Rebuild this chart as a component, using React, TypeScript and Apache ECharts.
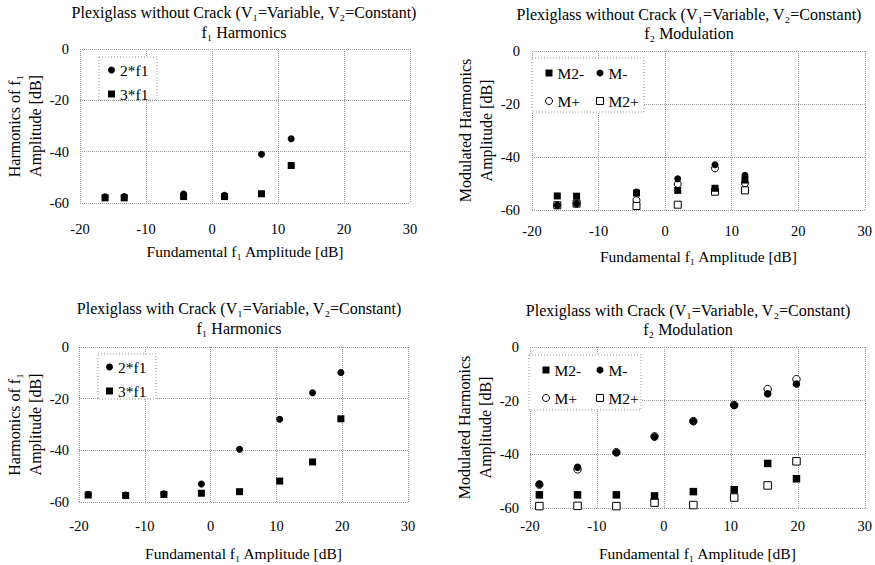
import React, { useEffect, useRef } from "react";
import * as echarts from "echarts";

const FONT = "'Liberation Serif', 'Times New Roman', 'DejaVu Serif', serif";

// Axis ranges / ticks
const X_MIN = -20;
const X_MAX = 30;
const X_STEP = 10;
const Y_MIN = -60;
const Y_MAX = 0;
const Y_STEP = 20;

// Texts
const titles = [
  ["Plexiglass without Crack (V₁=Variable, V₂=Constant)", "f₁ Harmonics"],
  ["Plexiglass without Crack (V₁=Variable, V₂=Constant)", "f₂ Modulation"],
  ["Plexiglass with Crack (V₁=Variable, V₂=Constant)", "f₁ Harmonics"],
  ["Plexiglass with Crack (V₁=Variable, V₂=Constant)", "f₂ Modulation"],
];
const xName = "Fundamental f₁ Amplitude [dB]";
const yNameHarm = "Harmonics of f₁\nAmplitude [dB]";
const yNameMod = "Modulated Harmonics\nAmplitude [dB]";

// Panel 1 & 2: plexiglass without crack (fundamental amplitude, dB)
const fundNoCrack = [-16.2, -13.3, -4.3, 1.9, 7.5, 12.0];
const p1Harm2 = [-57.6, -57.5, -56.5, -57.0, -41.0, -35.0];
const p1Harm3 = [-58.0, -58.0, -57.5, -57.5, -56.4, -45.4];

const p2M2minus = [-54.7, -54.8, -53.6, -52.6, -51.8, -48.7];
const p2Mminus = [-58.2, -57.6, -53.2, -48.2, -42.9, -46.9];
const p2Mplus = [-58.2, -57.6, -56.3, -50.2, -44.3, -49.9];
const p2M2plus = [-58.2, -57.6, -58.5, -58.0, -53.1, -52.6];

// Panel 3 & 4: plexiglass with crack
const fundCrack = [-18.6, -12.9, -7.1, -1.4, 4.4, 10.5, 15.5, 19.8];
const p3Harm2 = [-57.0, -57.3, -56.8, -53.0, -39.6, -28.0, -17.7, -9.9];
const p3Harm3 = [-57.3, -57.5, -57.1, -56.6, -56.0, -51.9, -44.5, -27.8];

const p4M2minus = [-55.1, -55.1, -55.1, -55.5, -53.9, -53.2, -43.4, -49.1];
const p4Mminus = [-51.1, -44.8, -39.4, -33.5, -27.8, -21.8, -17.4, -13.8];
const p4Mplus = [-51.3, -45.6, -39.2, -33.3, -27.6, -21.6, -15.7, -12.0];
const p4M2plus = [-59.3, -59.2, -59.3, -58.0, -58.9, -56.1, -51.6, -42.6];

function pts(xs: number[], ys: number[]) {
  return xs.map((x, i) => [x, ys[i]]);
}

// Layout (pixels)
const grids = [
  { left: 80, top: 49, width: 330, height: 154 },
  { left: 532, top: 51, width: 334, height: 159 },
  { left: 79, top: 347, width: 329, height: 155 },
  { left: 530, top: 347, width: 337, height: 161 },
];
const titlePos = [
  { x: 244, y1: 12, y2: 32 },
  { x: 689, y1: 14, y2: 33 },
  { x: 239, y1: 308, y2: 328 },
  { x: 688, y1: 310, y2: 329 },
];
const xLabelMargin = [18, 13, 16, 10];
const xNameGap = [40, 38, 43, 37];
const yLabelMargin = [11, 12, 10, 11];
const yNameGap = [33, 34, 31, 32];
const legendBoxes = [
  { x: 99, y: 57, w: 58, h: 43 },
  { x: 532, y: 58, w: 112, h: 54 },
  { x: 98, y: 354, w: 58, h: 45 },
  { x: 529, y: 355, w: 112, h: 55 },
];

const FILLED = { color: "#000", opacity: 1 };
const HOLLOW = { color: "#fff", borderColor: "#000", borderWidth: 1, opacity: 1 };

const mk = (name: string, symbol: string, gi: number, data: number[][], hollow: boolean, size = 7) => ({
  name,
  type: "scatter",
  xAxisIndex: gi,
  yAxisIndex: gi,
  symbol,
  symbolSize: size,
  itemStyle: hollow ? HOLLOW : FILLED,
  emphasis: { disabled: true },
  data,
});

const legendItem = (name: string, icon: string, hollow: boolean) => ({
  name,
  icon,
  itemStyle: hollow ? HOLLOW : FILLED,
});

export default function App() {
  const ref = useRef<HTMLDivElement>(null);

  useEffect(() => {
    if (!ref.current) return;
    const chart = echarts.init(ref.current, null, { renderer: "svg" });

    const textBase = { fontFamily: FONT, color: "#000" };

    const xAxis = grids.map((_, i) => ({
      type: "value",
      gridIndex: i,
      min: X_MIN,
      max: X_MAX,
      interval: X_STEP,
      name: xName,
      nameLocation: "middle",
      nameGap: xNameGap[i],
      nameTextStyle: { ...textBase, fontSize: 15.5 },
      axisLine: { show: false, onZero: false },
      axisTick: { show: false },
      axisLabel: { ...textBase, fontSize: 14.5, margin: xLabelMargin[i] },
      splitLine: { show: true, lineStyle: { type: "dotted", color: "#999", width: 1 } },
    }));

    const yAxis = grids.map((_, i) => ({
      type: "value",
      gridIndex: i,
      min: Y_MIN,
      max: Y_MAX,
      interval: Y_STEP,
      name: i % 2 === 0 ? yNameHarm : yNameMod,
      nameLocation: "middle",
      nameRotate: 90,
      nameGap: yNameGap[i],
      nameTextStyle: { ...textBase, fontSize: 16, lineHeight: 21 },
      axisLine: { show: false, onZero: false },
      axisTick: { show: false },
      axisLabel: { ...textBase, fontSize: 14.5, margin: yLabelMargin[i] },
      splitLine: { show: true, lineStyle: { type: "dotted", color: "#999", width: 1 } },
    }));

    const series: any[] = [
      mk("2*f1", "circle", 0, pts(fundNoCrack, p1Harm2), false),
      mk("3*f1", "rect", 0, pts(fundNoCrack, p1Harm3), false),
      mk("M+", "circle", 1, pts(fundNoCrack, p2Mplus), true),
      mk("M2+", "rect", 1, pts(fundNoCrack, p2M2plus), true),
      mk("M2-", "rect", 1, pts(fundNoCrack, p2M2minus), false),
      mk("M-", "circle", 1, pts(fundNoCrack, p2Mminus), false),
      mk("2*f1", "circle", 2, pts(fundCrack, p3Harm2), false),
      mk("3*f1", "rect", 2, pts(fundCrack, p3Harm3), false),
      mk("M+", "circle", 3, pts(fundCrack, p4Mplus), true, 7.5),
      mk("M2+", "rect", 3, pts(fundCrack, p4M2plus), true, 7.5),
      mk("M2-", "rect", 3, pts(fundCrack, p4M2minus), false, 7.5),
      mk("M-", "circle", 3, pts(fundCrack, p4Mminus), false, 7.5),
    ];

    const legendBase = {
      orient: "vertical",
      padding: 0,
      itemWidth: 7,
      itemHeight: 7,
      selectedMode: false,
      z: 5,
      textStyle: { ...textBase, fontSize: 15.5 },
    };
    const harmItems = [legendItem("2*f1", "circle", false), legendItem("3*f1", "rect", false)];
    const col1 = [legendItem("M2-", "rect", false), legendItem("M+", "circle", true)];
    const col2 = [legendItem("M-", "circle", false), legendItem("M2+", "rect", true)];
    const legend = [
      { ...legendBase, data: harmItems, left: 108, top: 62, itemGap: 8 },
      { ...legendBase, data: col1, left: 545, top: 65, itemGap: 12 },
      { ...legendBase, data: col2, left: 596, top: 65, itemGap: 12 },
      { ...legendBase, data: harmItems, left: 106, top: 359, itemGap: 8 },
      { ...legendBase, data: col1, left: 542, top: 362, itemGap: 12 },
      { ...legendBase, data: col2, left: 596, top: 362, itemGap: 12 },
    ];

    const graphic: any[] = [];
    titles.forEach((t, i) => {
      const p = titlePos[i];
      [t[0], t[1]].forEach((txt, j) => {
        graphic.push({
          type: "text",
          x: p.x,
          y: j === 0 ? p.y1 : p.y2,
          style: {
            text: txt,
            fontFamily: FONT,
            fontSize: 16,
            fill: "#000",
            align: "center",
            verticalAlign: "middle",
            textAlign: "center",
            textVerticalAlign: "middle",
          },
        });
      });
    });
    legendBoxes.forEach((b) => {
      graphic.push({
        type: "rect",
        z: 1,
        shape: { x: b.x, y: b.y, width: b.w, height: b.h },
        style: { fill: "#fff", stroke: "#999", lineWidth: 1, lineDash: [1, 2] },
        silent: true,
      });
    });

    chart.setOption({
      animation: false,
      backgroundColor: "#fff",
      grid: grids.map((g) => ({ ...g, containLabel: false })),
      xAxis,
      yAxis,
      legend,
      series,
      graphic,
    });

    return () => chart.dispose();
  }, []);

  return (
    <div
      ref={ref}
      style={{ position: "fixed", left: 0, top: 0, width: 875, height: 565, background: "#fff" }}
    />
  );
}
